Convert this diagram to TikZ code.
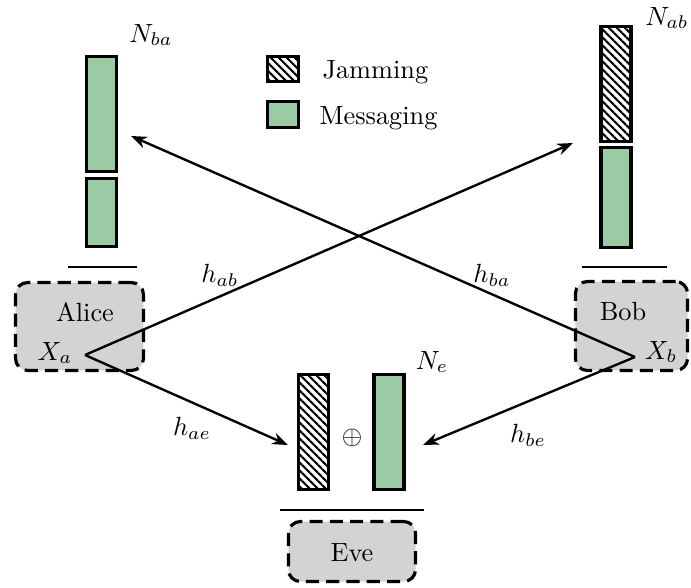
\documentclass[tikz,border=0pt]{standalone}
\usetikzlibrary{arrows.meta,patterns.meta}
\definecolor{msggreen}{RGB}{154,203,165}
\definecolor{boxgray}{RGB}{211,211,211}
\begin{document}
\begin{tikzpicture}[x=0.38pt,y=-0.38pt,
  bar/.style={draw=black,line width=1.2pt,inner sep=0pt,outer sep=0pt,minimum width=11.4pt},
  msg/.style={bar,fill=msggreen},
  jam/.style={bar,pattern={Lines[angle=-45,distance=2.15pt,line width=0.8pt]}},
  party/.style={draw=black,fill=boxgray,line width=1.2pt,dash pattern=on 5pt off 2.7pt,rounded corners=4.5pt,inner sep=0pt},
  rule/.style={line width=1pt},
  link/.style={line width=0.9pt,-{Stealth[length=6pt,width=4.5pt]}},
  lbl/.style={inner sep=0pt}]
\useasboundingbox (0,0) rectangle (691,587);

% Alice: two messaging blocks above the receiver bar
\node[msg,minimum height=43.7pt] (nba1) at (101.5,114) {};
\node[msg,minimum height=25.8pt] (nba2) at (101.5,212.5) {};
\node[lbl] (Nba) at (151,35) {$N_{ba}$};
\coordinate (aruleL) at (68,267);
\coordinate (aruleR) at (137,267);
\draw[rule] (aruleL) -- (aruleR);
\node[party,minimum width=48.6pt,minimum height=33.4pt] (alice) at (79.5,326.5) {};
\node[lbl] (alicetxt) at (85,312) {Alice};
\node[lbl] (Xa) at (55,353) {$X_a$};
\coordinate (xa) at (85,355);

% Bob: jamming block on top of a messaging block
\node[jam,minimum height=43.7pt] (nab1) at (616,84) {};
\node[msg,minimum height=38pt] (nab2) at (616,197.5) {};
\node[lbl] (Nab) at (667,18) {$N_{ab}$};
\coordinate (bruleL) at (582,267);
\coordinate (bruleR) at (667,267);
\draw[rule] (bruleL) -- (bruleR);
\node[party,minimum width=42.6pt,minimum height=33.8pt] (bob) at (631.5,326) {};
\node[lbl] (bobtxt) at (623,312) {Bob};
\node[lbl] (Xb) at (661,352) {$X_b$};
\coordinate (xb) at (635,357);

% Eve: jamming plus messaging
\node[jam,minimum height=43.7pt] (ne1) at (313.5,432) {};
\node[msg,minimum height=43.7pt] (ne2) at (389,432) {};
\node[lbl] (oplus) at (352,438) {$\oplus$};
\node[lbl] (Ne) at (432,362) {$N_e$};
\coordinate (eruleL) at (280,510);
\coordinate (eruleR) at (424,510);
\draw[rule] (eruleL) -- (eruleR);
\node[party,minimum width=48.3pt,minimum height=22.8pt] (eve) at (352,551.5) {};
\node[lbl] (evetxt) at (352,553) {Eve};

% Legend
\node[jam,minimum width=11.8pt,minimum height=9.5pt] (legjam) at (283,69) {};
\node[msg,minimum width=11.8pt,minimum height=9.9pt] (legmsg) at (283,114.5) {};
\node[lbl,anchor=west] (legjamtxt) at (322,72) {Jamming};
\node[lbl,anchor=west] (legmsgtxt) at (319,118) {Messaging};

% Channels
\coordinate (tab) at (573,143);
\coordinate (tba) at (131,136);
\coordinate (tae) at (288,445);
\coordinate (tbe) at (423,445);
\draw[link] (xa) -- (tab);
\draw[link] (xb) -- (tba);
\draw[link] (xa) -- (tae);
\draw[link] (xb) -- (tbe);
\node[lbl] (hab) at (220,275) {$h_{ab}$};
\node[lbl] (hba) at (492,275) {$h_{ba}$};
\node[lbl] (hae) at (192,428) {$h_{ae}$};
\node[lbl] (hbe) at (528,435) {$h_{be}$};
\end{tikzpicture}
\end{document}
